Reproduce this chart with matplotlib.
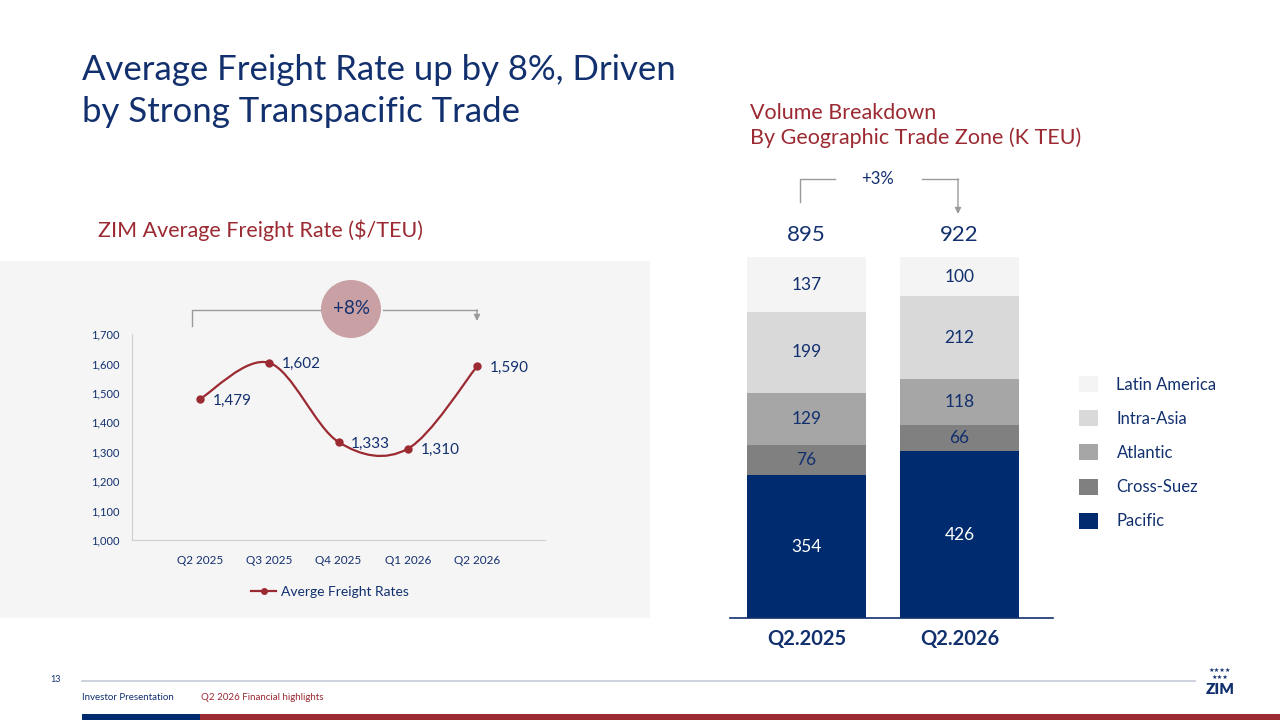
import numpy as np
import matplotlib
matplotlib.use("Agg")
import matplotlib.pyplot as plt
from matplotlib.patches import Rectangle, Ellipse, Patch, PathPatch, FancyArrowPatch
from matplotlib.path import Path
from matplotlib.lines import Line2D
from matplotlib.ticker import FuncFormatter

# ---- data -------------------------------------------------------------
quarters = ["Q2 2025", "Q3 2025", "Q4 2025", "Q1 2026", "Q2 2026"]
freight_rates = [1479, 1602, 1333, 1310, 1590]

periods = ["Q2.2025", "Q2.2026"]
zones = ["Pacific", "Cross-Suez", "Atlantic", "Intra-Asia", "Latin America"]
pacific = [354, 426]
cross_suez = [76, 66]
atlantic = [129, 118]
intra_asia = [199, 212]
latin_america = [137, 100]

# ---- style ------------------------------------------------------------
NAVY = "#12306e"
BAR_NAVY = "#002b6e"
RED = "#9b2a32"
GREY_LINE = "#9a9a9a"
zone_colors = ["#002b6e", "#808080", "#a6a6a6", "#d9d9d9", "#f4f4f4"]
label_colors = ["white", NAVY, NAVY, NAVY, NAVY]

plt.rcParams["font.family"] = ["Lato", "DejaVu Sans"]

W, H = 1280, 720
fig = plt.figure(figsize=(12.8, 7.2), dpi=100)
fig.patch.set_facecolor("white")


def fx(x):
    return x / W


def fy(y):
    return 1 - y / H


def fig_line(xs, ys, color=GREY_LINE, lw=1.0):
    fig.add_artist(Line2D([fx(v) for v in xs], [fy(v) for v in ys],
                          transform=fig.transFigure, color=color, lw=lw))


def fig_arrow(x, y0, y1, color=GREY_LINE):
    fig.add_artist(FancyArrowPatch((fx(x), fy(y0)), (fx(x), fy(y1)),
                                   transform=fig.transFigure, arrowstyle="-|>",
                                   mutation_scale=9, color=color, lw=1.0,
                                   shrinkA=0, shrinkB=0))


def smooth_path(xs, ys):
    # bezier smoothing like the office "smoothed line" option
    pts = np.column_stack([xs, ys]).astype(float)
    n = len(pts)
    verts, codes = [pts[0]], [Path.MOVETO]
    for i in range(n - 1):
        p0, p1 = pts[max(i - 1, 0)], pts[i]
        p2, p3 = pts[i + 1], pts[min(i + 2, n - 1)]
        verts += [p1 + (p2 - p0) / 6, p2 - (p3 - p1) / 6, p2]
        codes += [Path.CURVE4] * 3
    return Path(verts, codes)


# ---- titles -----------------------------------------------------------
fig.text(fx(82), fy(80), "Average Freight Rate up by 8%, Driven",
         fontsize=25, color=NAVY, va="baseline")
fig.text(fx(82), fy(122), "by Strong Transpacific Trade",
         fontsize=25, color=NAVY, va="baseline")

fig.text(fx(750), fy(113), "Volume Breakdown", fontsize=15.5, color=RED, va="center")
fig.text(fx(750), fy(138), "By Geographic Trade Zone (K TEU)", fontsize=15.5,
         color=RED, va="center")
fig.text(fx(98), fy(230), "ZIM Average Freight Rate ($/TEU)", fontsize=15.5,
         color=RED, va="center")

# ---- left panel: freight rate line -------------------------------------
fig.add_artist(Rectangle((0, fy(618)), fx(650), (618 - 261) / H,
                         transform=fig.transFigure, facecolor="#f5f5f5",
                         edgecolor="none", zorder=0))

ax1 = fig.add_axes([fx(132), fy(540), 413 / W, 206 / H])
ax1.set_facecolor("none")
xpos = np.arange(len(quarters))
ax1.set_xlim(-0.98, len(quarters) - 1 + 0.98)
ax1.set_ylim(1000, 1700)
ax1.set_yticks(np.arange(1000, 1701, 100))
ax1.yaxis.set_major_formatter(FuncFormatter(lambda v, p: f"{int(v):,}"))
ax1.set_xticks(xpos)
ax1.set_xticklabels(quarters)
ax1.tick_params(axis="y", length=0, pad=9, labelsize=8, labelcolor=NAVY)
ax1.tick_params(axis="x", length=0, pad=11, labelsize=8.5, labelcolor=NAVY)
for side in ["top", "right"]:
    ax1.spines[side].set_visible(False)
for side in ["left", "bottom"]:
    ax1.spines[side].set_color("#cfcfcf")

ax1.add_patch(PathPatch(smooth_path(xpos, freight_rates), facecolor="none",
                        edgecolor=RED, lw=1.6, zorder=3))
ax1.plot(xpos, freight_rates, "o", ms=5, color=RED, zorder=4)
for xi, v in zip(xpos, freight_rates):
    ax1.annotate(f"{v:,}", (xi, v), xytext=(9, -1), textcoords="offset points",
                 va="center", ha="left", fontsize=11, color=NAVY)

handle = Line2D([], [], color=RED, marker="o", ms=4, lw=1.6)
ax1.legend([handle], ["Averge Freight Rates"], loc="center",
           bbox_to_anchor=(fx(330), fy(592)), bbox_transform=fig.transFigure,
           frameon=False, fontsize=10, labelcolor=NAVY, handlelength=1.8,
           handletextpad=0.3)

# +8% bracket
fig_line([192, 192, 320], [326, 310, 310])
fig_line([383, 477], [310, 310])
fig_arrow(477, 310, 321)
fig.add_artist(Ellipse((fx(351), fy(309)), 60 / W, 58 / H, transform=fig.transFigure,
                       facecolor="#c9a0a3", edgecolor="none"))
fig.text(fx(351), fy(309), "+8%", fontsize=13.5, color=NAVY, ha="center", va="center")

# ---- right panel: 100% stacked volume bars -----------------------------
ax2 = fig.add_axes([fx(730), fy(618), 323 / W, 361 / H])
ax2.set_facecolor("none")
series = [pacific, cross_suez, atlantic, intra_asia, latin_america]
totals = np.sum(series, axis=0)
bx = np.arange(len(periods))
bottom = np.zeros(len(periods))
for vals, col, tcol, name in zip(series, zone_colors, label_colors, zones):
    share = np.array(vals) / totals
    ax2.bar(bx, share, bottom=bottom, width=0.778, color=col, label=name)
    for xi, b, s, v in zip(bx, bottom, share, vals):
        ax2.text(xi, b + s / 2, str(v), ha="center", va="center",
                 fontsize=12.5, color=tcol)
    bottom += share

for xi, t in zip(bx, totals):
    ax2.text(xi, 1.06, str(t), ha="center", va="center", fontsize=16,
             color=NAVY, clip_on=False)

ax2.set_xlim(-0.5, 1.611)
ax2.set_ylim(0, 1)
ax2.set_yticks([])
ax2.set_xticks(bx)
ax2.set_xticklabels(periods, fontsize=14.5, fontweight="bold", color=NAVY)
ax2.tick_params(axis="x", length=0, pad=8)
for side in ["top", "right", "left"]:
    ax2.spines[side].set_visible(False)
ax2.spines["bottom"].set_color(NAVY)
ax2.spines["bottom"].set_linewidth(1.2)

# +3% bracket
fig_line([800, 800, 835], [202, 179, 179])
fig_line([922, 958], [179, 179])
fig_arrow(958, 179, 214)
fig.text(fx(878), fy(179), "+3%", fontsize=12, color=NAVY, ha="center", va="center")

handles = [Patch(facecolor=c) for c in zone_colors][::-1]
fig.legend(handles, zones[::-1], loc="upper left",
           bbox_to_anchor=(fx(1064), fy(361)), frameon=False, fontsize=12,
           labelcolor=NAVY, handlelength=1.15, handleheight=1.1,
           handletextpad=1.1, labelspacing=1.05)

# ---- footer -----------------------------------------------------------
fig.text(fx(56), fy(680), "13", fontsize=6.5, color=NAVY, va="center", ha="center")
fig_line([82, 1195], [681, 681], color="#c3c9d6", lw=1.2)
fig.text(fx(82), fy(698), "Investor Presentation", fontsize=7, color=NAVY, va="center")
fig.text(fx(201), fy(698), "Q2 2026 Financial highlights", fontsize=7, color=RED,
         va="center")
fig.add_artist(Rectangle((fx(82), 0), fx(200) - fx(82), 6 / H,
                         transform=fig.transFigure, facecolor=BAR_NAVY, edgecolor="none"))
fig.add_artist(Rectangle((fx(200), 0), 1 - fx(200), 6 / H,
                         transform=fig.transFigure, facecolor=RED, edgecolor="none"))
fig.text(fx(1220), fy(670), "\u2605\u2605\u2605\u2605", fontsize=4.5, color=NAVY,
         ha="center", va="center", family="DejaVu Sans")
fig.text(fx(1220), fy(677), "\u2605\u2605\u2605", fontsize=4.5, color=NAVY,
         ha="center", va="center", family="DejaVu Sans")
fig.text(fx(1220), fy(689), "ZIM", fontsize=11, color=NAVY, ha="center",
         va="center", fontweight="heavy")

fig.savefig("out.png", dpi=100)
